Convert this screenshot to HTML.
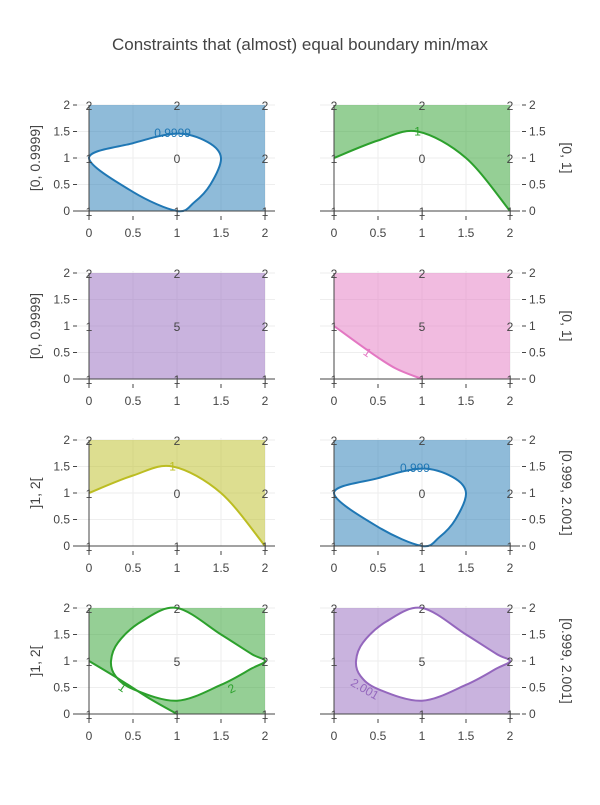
<!DOCTYPE html>
<html><head><meta charset="utf-8"><style>
body{margin:0;background:#fff}
svg text{font-family:"Liberation Sans","DejaVu Sans",sans-serif;fill:#444}
</style></head><body>
<svg id="chart" width="600" height="800" xmlns="http://www.w3.org/2000/svg">
<rect width="600" height="800" fill="#fff"/>
<text x="300" y="50" text-anchor="middle" font-size="17">Constraints that (almost) equal boundary min/max</text>
</svg>
<script>
// grid coordinates and z values
const xs = [0, 1, 2];
const ys = [0, 1, 2];
const zCenter = [0, 0, 5, 5, 0, 0, 5, 5];
const zRow0 = [1, 1, 1];
const zRow2 = [2, 2, 2];
const zLeftMid = 1, zRightMid = 2;
const yTitles = ["[0, 0.9999]", "[0, 1]", "[0, 0.9999]", "[0, 1]", "]1, 2[", "[0.999, 2.001]", "]1, 2[", "[0.999, 2.001]"];
const xTicks = [0, 0.5, 1, 1.5, 2];
const xTickLabels = ["0", "0.5", "1", "1.5", "2"];
const yTicks = [0, 0.5, 1, 1.5, 2];
const yTickLabels = ["0", "0.5", "1", "1.5", "2"];
// contour paths (data coords)
const loopA_x = [0, 0.5, 1, 1.35, 1.5, 1.38, 1.2, 1, 0.5];
const loopA_y = [1, 1.28, 1.46, 1.3, 1, 0.5, 0.17, 0, 0.36];
const curveB_x = [0, 0.5, 0.95, 1.5, 2];
const curveB_y = [1, 1.33, 1.5, 1.0, 0];
const curveC_x = [0, 0.4, 0.7, 1];
const curveC_y = [1, 0.52, 0.2, 0];
const curveE_x = [0, 0.35, 0.7, 1];
const curveE_y = [1, 0.65, 0.28, 0];
const loopD_x = [0.25, 0.33, 0.6, 1, 1.5, 1.85, 2, 1.85, 1.5, 1, 0.5, 0.3];
const loopD_y = [1, 1.35, 1.75, 2, 1.5, 1.13, 1, 0.86, 0.55, 0.25, 0.47, 0.72];

const svg = document.getElementById('chart');
const NS = 'http://www.w3.org/2000/svg';
const colLeft = 89, colRight = 334, SX = 88, SY = 53;
const rowBottom = [211, 379, 546, 714];
function mk(tag, attrs, parent) { const e = document.createElementNS(NS, tag); for (const k in attrs) e.setAttribute(k, attrs[k]); (parent || svg).appendChild(e); return e; }
function spline(px, py, closed) {
  const n = px.length; let d = `M${px[0]},${py[0]}`;
  const P = i => closed ? [(px[(i + n) % n]), (py[(i + n) % n])] : [px[Math.max(0, Math.min(n - 1, i))], py[Math.max(0, Math.min(n - 1, i))]];
  const segs = closed ? n : n - 1;
  for (let i = 0; i < segs; i++) {
    const p0 = P(i - 1), p1 = P(i), p2 = P(i + 1), p3 = P(i + 2);
    const c1 = [p1[0] + (p2[0] - p0[0]) / 6, p1[1] + (p2[1] - p0[1]) / 6];
    const c2 = [p2[0] - (p3[0] - p1[0]) / 6, p2[1] - (p3[1] - p1[1]) / 6];
    d += ` C${c1[0]},${c1[1]} ${c2[0]},${c2[1]} ${p2[0]},${p2[1]}`;
  }
  return d + (closed ? 'Z' : '');
}
const panels = [
  {color: '#1f77b4', fill: 'rgba(31,119,180,0.5)', type: 'rectMinusLoop', loop: [loopA_x, loopA_y], labels: [['0.9999', 0.95, 1.47, 0]]},
  {color: '#2ca02c', fill: 'rgba(44,160,44,0.5)', type: 'above', curve: [curveB_x, curveB_y], labels: [['1', 0.95, 1.5, 0]]},
  {color: '#9467bd', fill: 'rgba(148,103,189,0.5)', type: 'full', labels: []},
  {color: '#e377c2', fill: 'rgba(227,119,194,0.5)', type: 'aboveLow', curve: [curveC_x, curveC_y], labels: [['1', 0.38, 0.5, 35]]},
  {color: '#bcbd22', fill: 'rgba(188,189,34,0.5)', type: 'above', curve: [curveB_x, curveB_y], labels: [['1', 0.95, 1.5, 0]]},
  {color: '#1f77b4', fill: 'rgba(31,119,180,0.5)', type: 'rectMinusLoop', loop: [loopA_x, loopA_y], labels: [['0.999', 0.92, 1.47, 0]]},
  {color: '#2ca02c', fill: 'rgba(44,160,44,0.5)', type: 'band', curve: [curveE_x, curveE_y], loop: [loopD_x, loopD_y], labels: [['1', 0.38, 0.5, 35], ['2', 1.62, 0.48, -25]]},
  {color: '#9467bd', fill: 'rgba(148,103,189,0.5)', type: 'rectMinusLoop', loop: [loopD_x, loopD_y], labels: [['2.001', 0.35, 0.47, 30]]}
];
panels.forEach((p, k) => {
  const row = Math.floor(k / 2), right = k % 2 === 1;
  const x0 = right ? colRight : colLeft, yb = rowBottom[row];
  const X = v => x0 + v * SX, Y = v => yb - v * SY;
  const g = mk('g', {});
  
  
  // grid
  xTicks.forEach(t => { if (t > 0) mk('line', {x1: X(t), x2: X(t), y1: Y(2) - 2, y2: yb, stroke: '#eee', 'stroke-width': 1}, g); });
  yTicks.forEach(t => { if (t > 0) mk('line', {x1: X(0) - 14, x2: X(2) + 10, y1: Y(t), y2: Y(t), stroke: '#eee', 'stroke-width': 1}, g); });
  // fill
  const rect = `M${X(0)},${Y(0)} L${X(2)},${Y(0)} L${X(2)},${Y(2)} L${X(0)},${Y(2)} Z`;
  let d = '';
  const cpath = c => spline(c[0].map(X), c[1].map(Y), false);
  const lpath = c => spline(c[0].map(X), c[1].map(Y), true);
  if (p.type === 'full') d = rect;
  if (p.type === 'rectMinusLoop') d = rect + ' ' + lpath(p.loop);
  if (p.type === 'above' || p.type === 'band') d = cpath(p.curve) + (p.type === 'band' ? ` L${X(2)},${Y(0)}` : '') + ` L${X(2)},${Y(2)} L${X(0)},${Y(2)} Z`;
  if (p.type === 'aboveLow') d = cpath(p.curve) + ` L${X(2)},${Y(0)} L${X(2)},${Y(2)} L${X(0)},${Y(2)} Z`;
  if (p.type === 'band') d += ' ' + lpath(p.loop);
  const f = mk('path', {d: d, fill: p.fill, 'fill-rule': 'evenodd', stroke: 'none'}, g);
  
  
  if (p.curve) { const c = mk('path', {d: cpath(p.curve), fill: 'none', stroke: p.color, 'stroke-width': 2}, g);
    
     }
  if (p.loop) { const c = mk('path', {d: lpath(p.loop), fill: 'none', stroke: p.color, 'stroke-width': 2}, g);
    
     }
  // axes zero lines
  mk('line', {x1: X(0) - 14, x2: X(2) + 10, y1: yb, y2: yb, stroke: '#444', 'stroke-width': 1}, g);
  mk('line', {x1: X(0), x2: X(0), y1: Y(2), y2: yb + 4, stroke: '#444', 'stroke-width': 1}, g);
  // x ticks
  xTicks.forEach((t, i) => {
    mk('line', {x1: X(t), x2: X(t), y1: yb + 5, y2: yb + 9, stroke: '#444', 'stroke-width': 1}, g);
    const tx = mk('text', {x: X(t), y: yb + 26, 'text-anchor': 'middle', 'font-size': 12}, g); tx.textContent = xTickLabels[i];
    
    
  });
  // y ticks
  yTicks.forEach((t, i) => {
    mk('line', {x1: right ? X(2) + 12 : X(0) - 16, x2: right ? X(2) + 16 : X(0) - 12, y1: Y(t), y2: Y(t), stroke: '#444', 'stroke-width': 1}, g);
    const t2 = mk('text', {x: right ? X(2) + 19 : X(0) - 19, y: Y(t) + 4, 'text-anchor': right ? 'start' : 'end', 'font-size': 12}, g); t2.textContent = yTickLabels[i];
    
    
  });
  // y title
  const ty = right ? 562 : 40, cy = Y(1);
  const tt = mk('text', {x: ty, y: cy, 'text-anchor': 'middle', 'font-size': 14, transform: `rotate(${right ? 90 : -90} ${ty} ${cy})`}, g); tt.textContent = yTitles[k];
  
  
  // z value labels
  const zg = [zRow0, [zLeftMid, zCenter[k], zRightMid], zRow2];
  ys.forEach((yy, j) => xs.forEach((xx, i) => {
    const t = mk('text', {x: X(xx), y: Y(yy) + 5, 'text-anchor': 'middle', 'font-size': 12}, g); t.textContent = zg[j][i];
    
    
  }));
  // contour labels
  p.labels.forEach(l => {
    const t = mk('text', {x: X(l[1]), y: Y(l[2]) + 4, 'text-anchor': 'middle', 'font-size': 12, transform: `rotate(${l[3]} ${X(l[1])} ${Y(l[2])})`, style: `fill:${p.color}`}, g); t.textContent = l[0];
    
    
  });
});
</script>
</body></html>
